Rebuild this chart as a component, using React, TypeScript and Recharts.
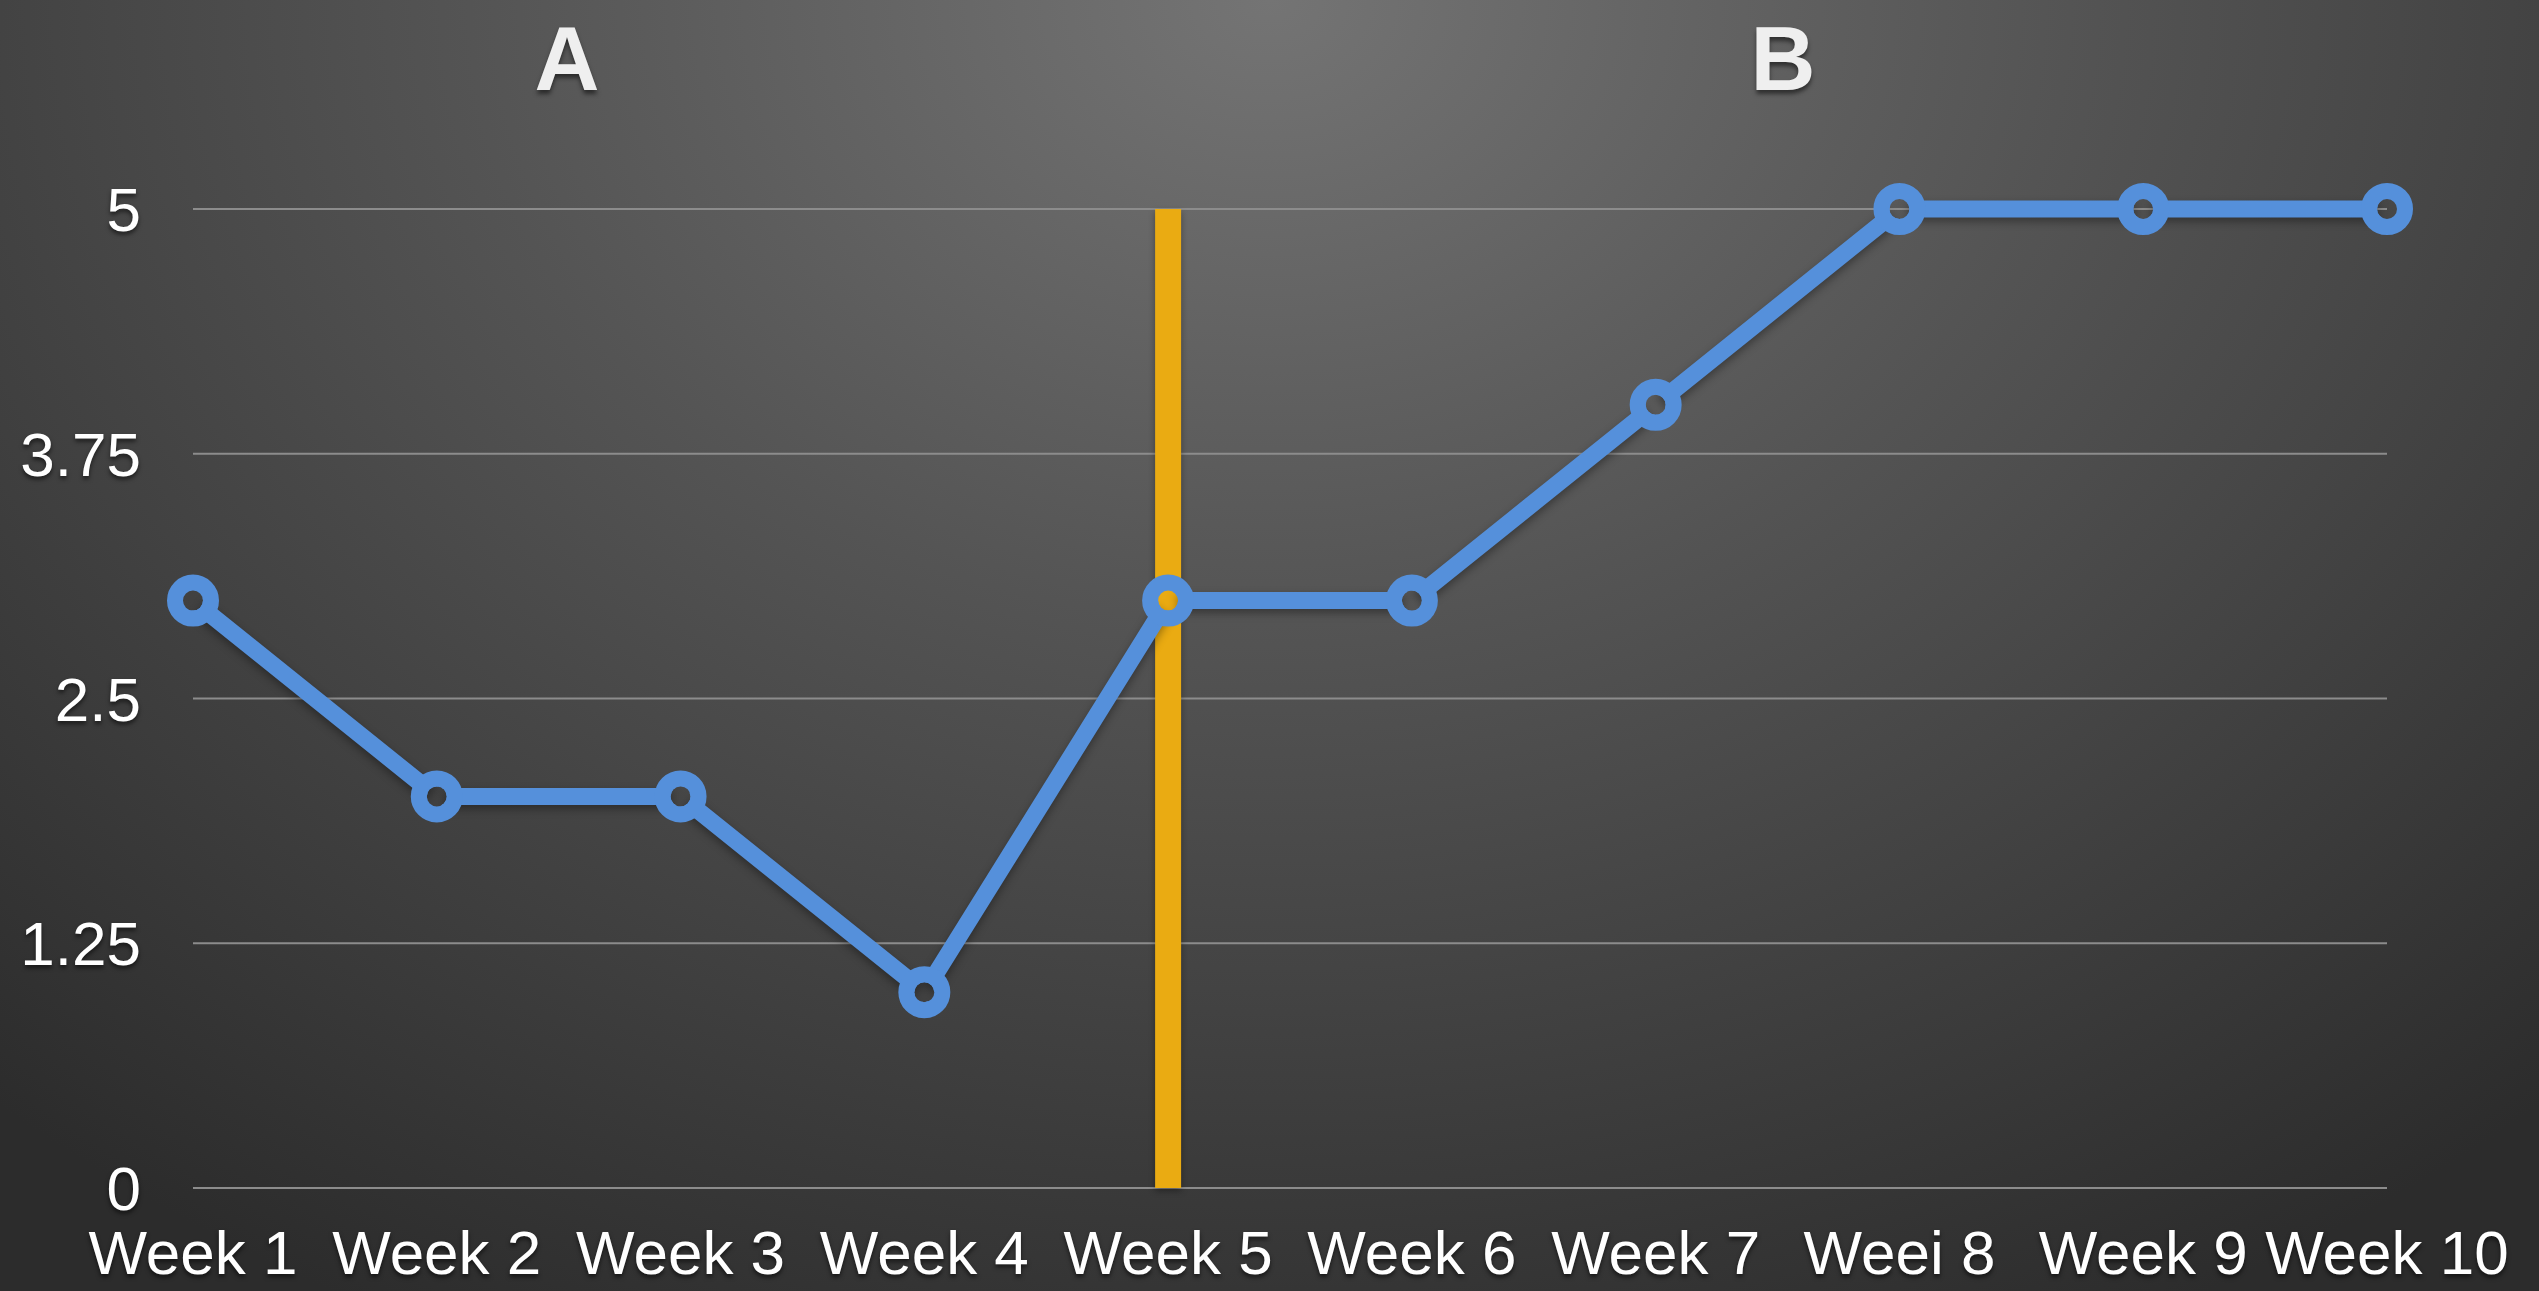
import {
  LineChart,
  Line,
  XAxis,
  YAxis,
  CartesianGrid,
  ReferenceLine,
} from "recharts";

const weeks = [
  "Week 1",
  "Week 2",
  "Week 3",
  "Week 4",
  "Week 5",
  "Week 6",
  "Week 7",
  "Weei 8",
  "Week 9",
  "Week 10",
];
const scores = [3, 2, 2, 1, 3, 3, 4, 5, 5, 5];
const yTicks = [0, 1.25, 2.5, 3.75, 5];
const phaseLabels = ["A", "B"];
const phaseChange = "Week 5";

const W = 2539;
const H = 1291;
const lineColor = "#5590db";
const font = '"Liberation Sans", Arial, sans-serif';

const chartData = weeks.map((week, i) => ({ week, score: scores[i] }));

const css = `
.recharts-cartesian-axis-tick-value { filter: drop-shadow(0 3px 2px rgba(0,0,0,0.55)); }
.recharts-line { filter: drop-shadow(0 4px 4px rgba(0,0,0,0.35)); }
.recharts-line-curve { mask: url(#line-holes); }
.recharts-reference-line { filter: drop-shadow(0 3px 3px rgba(0,0,0,0.35)); }
`;

// ring marker; the hole circle goes in <defs> so the mask below can cut it out of the line
const renderDot = (props: any) => {
  const { cx, cy, index } = props;
  return (
    <g key={`dot-${index}`}>
      <defs>
        <circle id={`hole-${index}`} cx={cx} cy={cy} r={10} />
      </defs>
      <circle
        cx={cx}
        cy={cy}
        r={18}
        fill="none"
        stroke={lineColor}
        strokeWidth={16}
      />
    </g>
  );
};

export default function App() {
  return (
    <div
      style={{
        position: "absolute",
        left: 0,
        top: 0,
        width: W,
        height: H,
        overflow: "hidden",
        background:
          "radial-gradient(ellipse 75% 115% at 50% 0%, #747474 0%, #545454 42%, #2c2c2c 100%)",
        fontFamily: font,
      }}
    >
      <style>{css}</style>
      <svg width={0} height={0} style={{ position: "absolute" }}>
        <mask
          id="line-holes"
          maskUnits="userSpaceOnUse"
          x={0}
          y={0}
          width={W}
          height={H}
        >
          <rect x={0} y={0} width={W} height={H} fill="white" />
          {scores.map((_, i) => (
            <use key={i} href={`#hole-${i}`} fill="black" />
          ))}
        </mask>
      </svg>
      {phaseLabels.map((label, i) => (
        <div
          key={label}
          style={{
            position: "absolute",
            top: 8,
            left: i === 0 ? 567 - 60 : 1783 - 60,
            width: 120,
            textAlign: "center",
            fontSize: 90,
            fontWeight: "bold",
            color: "#efefef",
            textShadow: "0 4px 4px rgba(0,0,0,0.5)",
          }}
        >
          {label}
        </div>
      ))}
      <LineChart
        width={W}
        height={H}
        data={chartData}
        margin={{ top: 209, right: 152, bottom: 0, left: 0 }}
      >
        <CartesianGrid vertical={false} stroke="#8c8c8c" strokeWidth={2} />
        <XAxis
          dataKey="week"
          axisLine={false}
          tickLine={false}
          tickSize={0}
          tickMargin={42}
          height={103}
          interval={0}
          padding={{ left: 0, right: 0 }}
          tick={{ fill: "#ffffff", fontSize: 62, fontFamily: font }}
        />
        <YAxis
          type="number"
          domain={[0, 5]}
          ticks={yTicks}
          width={193}
          axisLine={false}
          tickLine={false}
          tickSize={0}
          tickMargin={52}
          tick={{ fill: "#ffffff", fontSize: 62, fontFamily: font }}
        />
        <ReferenceLine
          segment={[
            { x: phaseChange, y: 0 },
            { x: phaseChange, y: 5 },
          ]}
          stroke="#eaab12"
          strokeWidth={26}
        />
        <Line
          type="linear"
          dataKey="score"
          stroke={lineColor}
          strokeWidth={17}
          dot={renderDot}
          activeDot={false}
          isAnimationActive={false}
        />
      </LineChart>
    </div>
  );
}
